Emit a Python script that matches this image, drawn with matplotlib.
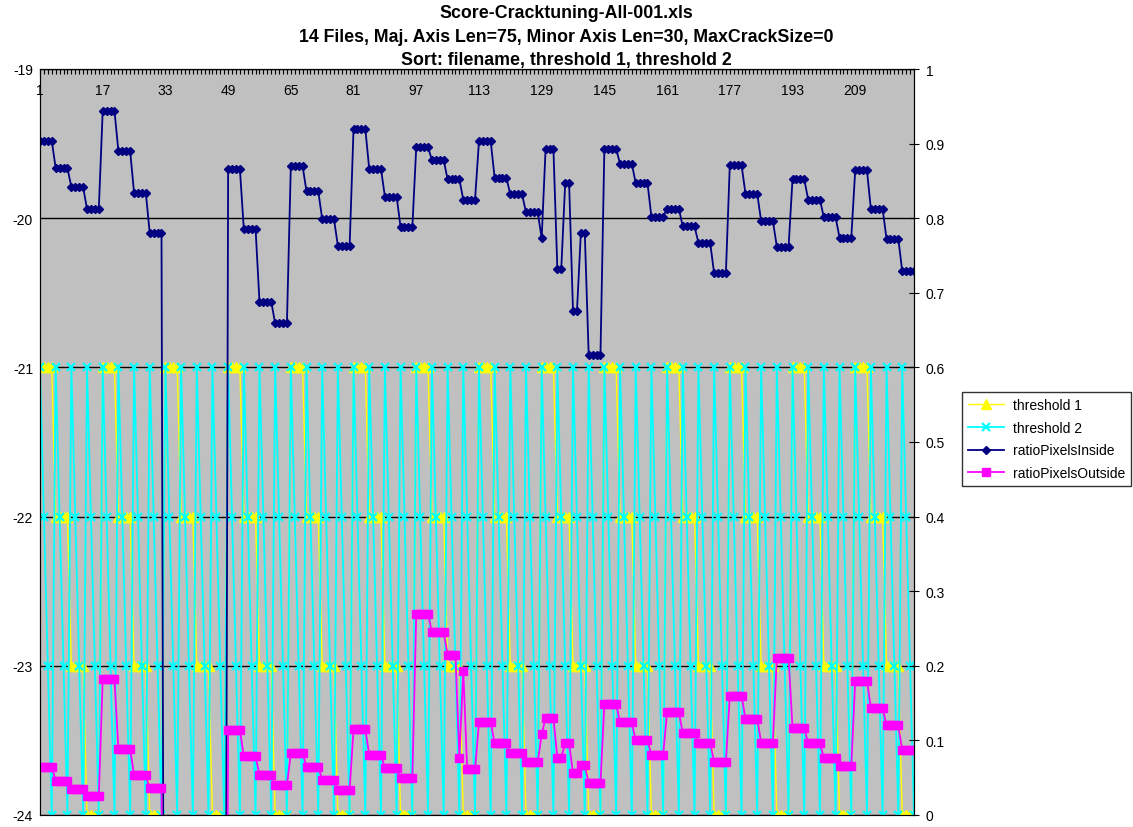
import numpy as np
import matplotlib
matplotlib.use('Agg')
import matplotlib.pyplot as plt
from matplotlib.ticker import FixedLocator, MultipleLocator, FuncFormatter

plt.rcParams['font.family'] = ['Liberation Sans', 'DejaVu Sans']
plt.rcParams['axes.unicode_minus'] = False

# 14 files, each swept over threshold 1 x threshold 2 (4 x 4 = 16 rows)
n_files = 14
thresh1_per_file = [-21, -21, -21, -21, -22, -22, -22, -22,
                    -23, -23, -23, -23, -24, -24, -24, -24]
thresh2_per_file = [-21, -22, -23, -24, -21, -22, -23, -24,
                    -21, -22, -23, -24, -21, -22, -23, -24]

# ratios, one row of 16 per file (file 3 has no valid result -> off the axis)
ratio_inside = [
    0.904, 0.904, 0.904, 0.904, 0.867, 0.867, 0.867, 0.867, 0.842, 0.842, 0.842, 0.842, 0.812, 0.812, 0.812, 0.812,
    0.944, 0.944, 0.944, 0.944, 0.890, 0.890, 0.890, 0.890, 0.834, 0.834, 0.834, 0.834, 0.780, 0.780, 0.780, 0.780,
    -1.0, -1.0, -1.0, -1.0, -1.0, -1.0, -1.0, -1.0, -1.0, -1.0, -1.0, -1.0, -1.0, -1.0, -1.0, -1.0,
    0.866, 0.866, 0.866, 0.866, 0.786, 0.786, 0.786, 0.786, 0.688, 0.688, 0.688, 0.688, 0.659, 0.659, 0.659, 0.659,
    0.870, 0.870, 0.870, 0.870, 0.836, 0.836, 0.836, 0.836, 0.799, 0.799, 0.799, 0.799, 0.763, 0.763, 0.763, 0.763,
    0.920, 0.920, 0.920, 0.920, 0.866, 0.866, 0.866, 0.866, 0.829, 0.829, 0.829, 0.829, 0.788, 0.788, 0.788, 0.788,
    0.895, 0.895, 0.895, 0.895, 0.878, 0.878, 0.878, 0.878, 0.852, 0.852, 0.852, 0.852, 0.825, 0.825, 0.825, 0.825,
    0.903, 0.903, 0.903, 0.903, 0.854, 0.854, 0.854, 0.854, 0.832, 0.832, 0.832, 0.832, 0.808, 0.808, 0.808, 0.808,
    0.773, 0.893, 0.893, 0.893, 0.732, 0.732, 0.847, 0.847, 0.675, 0.675, 0.780, 0.780, 0.616, 0.616, 0.616, 0.616,
    0.893, 0.893, 0.893, 0.893, 0.873, 0.873, 0.873, 0.873, 0.847, 0.847, 0.847, 0.847, 0.802, 0.802, 0.802, 0.802,
    0.813, 0.813, 0.813, 0.813, 0.789, 0.789, 0.789, 0.789, 0.767, 0.767, 0.767, 0.767, 0.726, 0.726, 0.726, 0.726,
    0.871, 0.871, 0.871, 0.871, 0.833, 0.833, 0.833, 0.833, 0.796, 0.796, 0.796, 0.796, 0.762, 0.762, 0.762, 0.762,
    0.852, 0.852, 0.852, 0.852, 0.825, 0.825, 0.825, 0.825, 0.801, 0.801, 0.801, 0.801, 0.774, 0.774, 0.774, 0.774,
    0.864, 0.864, 0.864, 0.864, 0.812, 0.812, 0.812, 0.812, 0.772, 0.772, 0.772, 0.772, 0.729, 0.729, 0.729, 0.729,
]

ratio_outside = [
    0.065, 0.065, 0.065, 0.065, 0.046, 0.046, 0.046, 0.046, 0.035, 0.035, 0.035, 0.035, 0.026, 0.026, 0.026, 0.026,
    0.182, 0.182, 0.182, 0.182, 0.089, 0.089, 0.089, 0.089, 0.053, 0.053, 0.053, 0.053, 0.036, 0.036, 0.036, 0.036,
    -1.0, -1.0, -1.0, -1.0, -1.0, -1.0, -1.0, -1.0, -1.0, -1.0, -1.0, -1.0, -1.0, -1.0, -1.0, -1.0,
    0.114, 0.114, 0.114, 0.114, 0.079, 0.079, 0.079, 0.079, 0.053, 0.053, 0.053, 0.053, 0.040, 0.040, 0.040, 0.040,
    0.083, 0.083, 0.083, 0.083, 0.065, 0.065, 0.065, 0.065, 0.047, 0.047, 0.047, 0.047, 0.034, 0.034, 0.034, 0.034,
    0.115, 0.115, 0.115, 0.115, 0.081, 0.081, 0.081, 0.081, 0.063, 0.063, 0.063, 0.063, 0.049, 0.049, 0.049, 0.049,
    0.270, 0.270, 0.270, 0.270, 0.245, 0.245, 0.245, 0.245, 0.215, 0.215, 0.215, 0.077, 0.193, 0.061, 0.061, 0.061,
    0.124, 0.124, 0.124, 0.124, 0.096, 0.096, 0.096, 0.096, 0.083, 0.083, 0.083, 0.083, 0.071, 0.071, 0.071, 0.071,
    0.108, 0.130, 0.130, 0.130, 0.077, 0.077, 0.096, 0.096, 0.056, 0.056, 0.067, 0.067, 0.043, 0.043, 0.043, 0.043,
    0.149, 0.149, 0.149, 0.149, 0.124, 0.124, 0.124, 0.124, 0.100, 0.100, 0.100, 0.100, 0.081, 0.081, 0.081, 0.081,
    0.138, 0.138, 0.138, 0.138, 0.110, 0.110, 0.110, 0.110, 0.097, 0.097, 0.097, 0.097, 0.071, 0.071, 0.071, 0.071,
    0.160, 0.160, 0.160, 0.160, 0.129, 0.129, 0.129, 0.129, 0.097, 0.097, 0.097, 0.097, 0.211, 0.211, 0.211, 0.211,
    0.117, 0.117, 0.117, 0.117, 0.096, 0.096, 0.096, 0.096, 0.077, 0.077, 0.077, 0.077, 0.066, 0.066, 0.066, 0.066,
    0.180, 0.180, 0.180, 0.180, 0.143, 0.143, 0.143, 0.143, 0.120, 0.120, 0.120, 0.120, 0.087, 0.087, 0.087, 0.087,
]

titles = ['Score-Cracktuning-All-001.xls',
          '14 Files, Maj. Axis Len=75, Minor Axis Len=30, MaxCrackSize=0',
          'Sort: filename, threshold 1, threshold 2']


def main():
    t1 = np.tile(thresh1_per_file, n_files)
    t2 = np.tile(thresh2_per_file, n_files)
    x = np.arange(1, len(t1) + 1)

    W, H = 1133, 828
    fig = plt.figure(figsize=(W / 100, H / 100), dpi=100)
    ax = fig.add_axes([40 / W, (H - 816) / H, 874 / W, 746 / H])
    ax.set_facecolor('#c0c0c0')

    ax.plot(x, t1, color='#ffff00', lw=1.0, marker='^', ms=7,
            mfc='#ffff00', mec='#ffff00', label='threshold 1')
    ax.plot(x, t2, color='#00ffff', lw=1.3, marker='x', ms=6, mew=1.6,
            label='threshold 2')

    ax.set_xlim(1, len(x))
    ax.set_ylim(-24, -19)
    ax.yaxis.set_major_locator(MultipleLocator(1))
    ax.grid(axis='y', color='black', lw=1)
    ax.set_axisbelow(True)
    ax.tick_params(axis='y', length=0, pad=5, labelsize=10)

    ax.xaxis.tick_top()
    ax.xaxis.set_major_locator(FixedLocator(range(1, len(x) + 1, 16)))
    ax.xaxis.set_minor_locator(MultipleLocator(1))
    ax.tick_params(axis='x', which='both', direction='in', length=3.5,
                   width=0.8, top=True, bottom=False, pad=-20, labelsize=10)
    ax.spines['bottom'].set_color('#808080')

    ax2 = ax.twinx()
    ax2.plot(x, ratio_inside, color='#000080', lw=1.3, marker='D', ms=3.6,
             mfc='#000080', mec='#000080', label='ratioPixelsInside')
    ax2.plot(x, ratio_outside, color='#ff00ff', lw=1.3, marker='s', ms=5.8,
             mfc='#ff00ff', mec='#ff00ff', label='ratioPixelsOutside')
    ax2.set_ylim(0, 1)
    ax2.yaxis.set_major_locator(MultipleLocator(0.1))
    ax2.yaxis.set_major_formatter(FuncFormatter(lambda v, p: f'{v:g}'))
    ax2.tick_params(axis='y', direction='inout', length=7, pad=5, labelsize=10)

    for i, t in enumerate(titles):
        fig.text(0.5, 1 - (14 + [0, 24, 46][i]) / H, t, ha='center', va='center',
                 fontsize=12.8, fontweight='bold')

    h1, l1 = ax.get_legend_handles_labels()
    h2, l2 = ax2.get_legend_handles_labels()
    leg = fig.legend(h1 + h2, l1 + l2, loc='upper left',
                     bbox_to_anchor=(962 / W, 1 - 393 / H), fontsize=10,
                     frameon=True, fancybox=False, edgecolor='black',
                     handlelength=2.6, labelspacing=0.62, borderpad=0.45,
                     handletextpad=0.6, borderaxespad=0)
    leg.get_frame().set_linewidth(1)

    fig.savefig('out.png', dpi=100)


if __name__ == "__main__":
    main()
